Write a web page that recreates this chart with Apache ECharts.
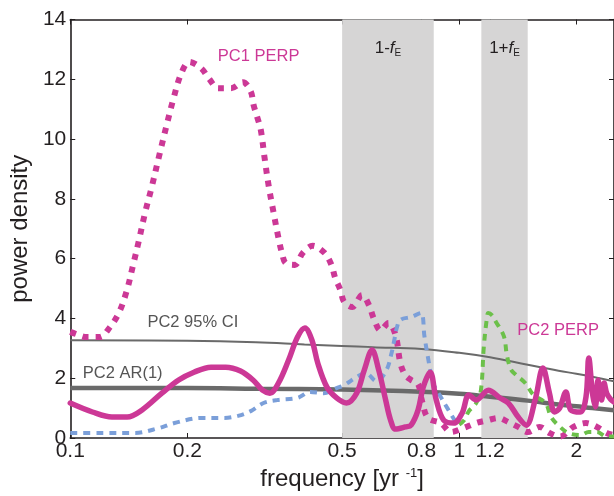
<!DOCTYPE html>
<html><head><meta charset="utf-8">
<script src="https://cdn.jsdelivr.net/npm/echarts@6/dist/echarts.min.js"></script>
<style>html,body{margin:0;padding:0;background:#fff}#c{width:614px;height:496px}</style>
</head><body><div id="c"></div>
<script>
// ---- data ----
const xTickValues = [0.1, 0.2, 0.5, 0.8, 1, 1.2, 2];
const bandLower = [0.5, 1.14];
const bandUpper = [0.86, 1.5];

const pc1Freq = [0.100,0.105,0.110,0.119,0.126,0.1335,0.1399,0.1449,0.1501,0.1555,0.1620,0.1697,0.1768,0.1842,0.1930,0.2024,0.217,0.228,0.240,0.259,0.278,0.291,0.296,0.303,0.309,0.316,0.324,0.333,0.343,0.350,0.358,0.378,0.396,0.420,0.450,0.469,0.480,0.495,0.506,0.531,0.5625,0.586,0.603,0.628,0.658,0.686,0.706,0.727,0.752,0.784,0.800,0.831,0.897,0.953,1.024,1.106,1.188,1.261,1.338,1.418,1.503,1.611,1.706,1.816,1.967,2.118,2.26,2.394,2.5];
const pc1Power = [3.55,3.45,3.38,3.38,3.68,4.2,4.95,5.76,6.6,7.5,8.4,9.5,10.45,11.35,12.2,12.58,12.37,12.0,11.7,11.7,11.9,11.6,11.14,10.7,10.3,9.36,8.4,7.56,6.69,6.2,5.85,5.79,6.19,6.43,6.2,5.8,5.35,4.95,4.55,4.38,4.78,4.45,4.0,3.6,3.85,3.44,2.5,2.1,1.94,1.8,1.3,0.67,0.5,0.2,0.33,0.5,0.6,0.67,0.53,0.37,0.2,0.37,0.17,0.05,0.37,0.5,0.37,0.17,0.1];

const pc2Freq = [0.100,0.114,0.128,0.140,0.153,0.172,0.190,0.208,0.230,0.251,0.274,0.295,0.312,0.326,0.343,0.364,0.384,0.401,0.418,0.433,0.457,0.484,0.513,0.545,0.570,0.597,0.621,0.647,0.666,0.686,0.727,0.752,0.784,0.808,0.842,0.873,0.912,0.968,1.017,1.059,1.106,1.188,1.273,1.338,1.418,1.487,1.567,1.641,1.706,1.758,1.812,1.880,1.935,2.048,2.118,2.153,2.201,2.239,2.274,2.322,2.358,2.394,2.45,2.5];
const pc2Power = [1.17,0.87,0.7,0.7,0.94,1.5,1.94,2.2,2.37,2.37,2.24,1.94,1.6,1.5,1.84,2.6,3.38,3.68,3.28,2.5,1.7,1.34,1.17,1.5,2.27,2.94,2.27,1.27,0.6,0.3,0.37,0.43,0.94,1.7,2.2,1.27,0.6,0.5,0.83,1.44,1.27,1.6,1.34,1.17,0.7,0.43,1.27,2.34,1.5,0.87,1.0,1.54,0.94,0.87,1.37,2.68,1.5,1.04,1.94,1.27,1.84,1.5,1.3,1.2];

const blueFreq = [0.100,0.121,0.1467,0.1687,0.1853,0.2172,0.2486,0.2699,0.2911,0.314,0.3409,0.384,0.414,0.448,0.484,0.506,0.545,0.575,0.613,0.650,0.670,0.681,0.691,0.706,0.752,0.797,0.814,0.831,0.857,0.897,0.938,0.985,1.0];
const bluePower = [0.17,0.17,0.17,0.33,0.5,0.67,0.67,0.74,0.9,1.17,1.27,1.34,1.54,1.5,1.67,1.77,2.04,2.17,1.9,2.27,2.84,3.28,3.68,3.95,4.05,4.18,3.4,2.7,1.84,1.37,0.94,0.5,0.45];

const greenFreq = [1.0,1.03,1.059,1.106,1.137,1.156,1.175,1.188,1.215,1.241,1.303,1.325,1.357,1.403,1.478,1.552,1.666,1.723,1.796,1.907,2.048,2.153,2.26,2.394,2.5];
const greenPower = [0.45,0.6,0.9,1.17,1.6,3.0,3.9,4.18,4.1,3.9,3.4,2.8,2.3,2.1,1.84,1.44,1.17,0.7,0.43,0.17,0.1,0.2,0.2,0.05,0.05];

const ciFreq = [0.1,0.2,0.3,0.4,0.5,0.6,0.8,1.0,1.2,1.5,1.8,2.0,2.2,2.5];
const ciPower = [3.27,3.25,3.2,3.13,3.08,3.04,2.98,2.85,2.7,2.45,2.25,2.15,2.05,1.9];

const arFreq = [0.1,0.2,0.3,0.5,0.8,1.0,1.2,1.5,1.8,2.0,2.2,2.5];
const arPower = [1.67,1.67,1.65,1.62,1.55,1.48,1.38,1.25,1.12,1.06,1.0,0.93];

const annoText = ['PC1 PERP', 'PC2 PERP', 'PC2 95% CI', 'PC2 AR(1)'];
const annoFreq = [0.305, 1.796, 0.2066, 0.1364];
const annoPower = [12.78, 3.61, 3.86, 2.16];

// ---- styles ----
const FONT = '"Liberation Sans", Arial, Helvetica, sans-serif';
const MAGENTA = '#cc3896';
const BLUE = '#7b9fd9';
const GREEN = '#6cc04a';
const GRAY = '#6a6a6a';
const AXIS = '#231f20';
const annoColor = [MAGENTA, MAGENTA, '#555555', '#555555'];

const zip = (a, b) => a.map((v, i) => [v, b[i]]);

const chart = echarts.init(document.getElementById('c'), null, {renderer: 'canvas'});

function xAxisDef(pos, showLabel) {
  return {
    type: 'log', logBase: 10, min: 0.1, max: 2.5, position: pos,
    axisLine: {show: true, onZero: false, lineStyle: {color: AXIS, width: 1.6}},
    axisTick: {show: true, inside: true, length: 5, customValues: xTickValues, lineStyle: {color: AXIS, width: 1}},
    minorTick: {show: false},
    axisLabel: {show: showLabel, customValues: xTickValues, formatter: v => String(v), fontSize: 21, color: AXIS, margin: 3, fontFamily: FONT},
    splitLine: {show: false},
    name: showLabel ? 'frequency [yr {sup|-1}]' : '',
    nameLocation: 'middle', nameGap: 28,
    nameTextStyle: {fontSize: 24, color: AXIS, fontFamily: FONT,
      rich: {sup: {fontSize: 13, verticalAlign: 'top', color: AXIS, fontFamily: FONT, lineHeight: 14}}}
  };
}
function yAxisDef(pos, showLabel) {
  return {
    type: 'value', min: 0, max: 14, interval: 2, position: pos,
    axisLine: {show: true, onZero: false, lineStyle: {color: AXIS, width: 1.6}},
    axisTick: {show: true, inside: true, length: 5, lineStyle: {color: AXIS, width: 1}},
    axisLabel: {show: showLabel, fontSize: 21, color: AXIS, margin: 4, fontFamily: FONT},
    splitLine: {show: false},
    name: showLabel ? 'power density' : '',
    nameLocation: 'middle', nameGap: 27,
    nameTextStyle: {fontSize: 24, color: AXIS, fontFamily: FONT}
  };
}

const bandLabel = (sign) => ({
  show: true, position: 'insideTop', distance: 19,
  formatter: '1' + sign + '{f|f}{e|E}',
  fontSize: 17, color: AXIS, fontFamily: FONT,
  rich: {f: {fontStyle: 'italic', fontSize: 17, color: AXIS, fontFamily: FONT},
         e: {fontSize: 10, color: AXIS, fontFamily: FONT, padding: [10, 0, 0, 0]}}
});

const option = {
  animation: false,
  backgroundColor: '#fff',
  grid: {left: 67.7, top: 19.5, width: 549.3, height: 418.5},
  xAxis: [xAxisDef('bottom', true), xAxisDef('top', false)],
  yAxis: [yAxisDef('left', true), yAxisDef('right', false)],
  series: [
    {type: 'line', data: [], z: 1, silent: true,
     markArea: {silent: true, itemStyle: {color: '#d6d5d5'},
       data: bandLower.map((lo, i) => [{xAxis: lo, label: bandLabel(i === 0 ? '-' : '+')}, {xAxis: bandUpper[i]}])}},
    {name: 'PC2 95% CI', type: 'line', z: 2, data: zip(ciFreq, ciPower), smooth: 0.4, symbol: 'none',
     lineStyle: {color: GRAY, width: 2}},
    {name: 'PC2 AR(1)', type: 'line', z: 2, data: zip(arFreq, arPower), smooth: 0.4, symbol: 'none',
     lineStyle: {color: GRAY, width: 4.5}},
    {name: 'PC1 PERP', type: 'line', z: 3, data: zip(pc1Freq, pc1Power), smooth: 0.35, symbol: 'none',
     lineStyle: {color: MAGENTA, width: 6, type: [6, 7], cap: 'butt'}},
    {name: 'blue', type: 'line', z: 3, data: zip(blueFreq, bluePower), smooth: 0.35, symbol: 'none',
     lineStyle: {color: BLUE, width: 4, type: [7, 6], cap: 'butt'}},
    {name: 'green', type: 'line', z: 3, data: zip(greenFreq, greenPower), smooth: 0.35, symbol: 'none',
     lineStyle: {color: GREEN, width: 4, type: [7, 6], cap: 'butt'}},
    {name: 'PC2 PERP', type: 'line', z: 4, data: zip(pc2Freq, pc2Power), smooth: 0.35, symbol: 'none',
     lineStyle: {color: MAGENTA, width: 5.5, cap: 'round', join: 'round'}}
  ]
};
chart.setOption(option);

const texts = annoText.map((t, i) => {
  const p = chart.convertToPixel({xAxisIndex: 0, yAxisIndex: 0}, [annoFreq[i], annoPower[i]]);
  return {type: 'text', x: p[0], y: p[1], z: 10,
    style: {text: t, fill: annoColor[i], font: '16.5px ' + FONT, textAlign: 'center', textVerticalAlign: 'middle'}};
});
chart.setOption({graphic: texts});
</script>
</body></html>
